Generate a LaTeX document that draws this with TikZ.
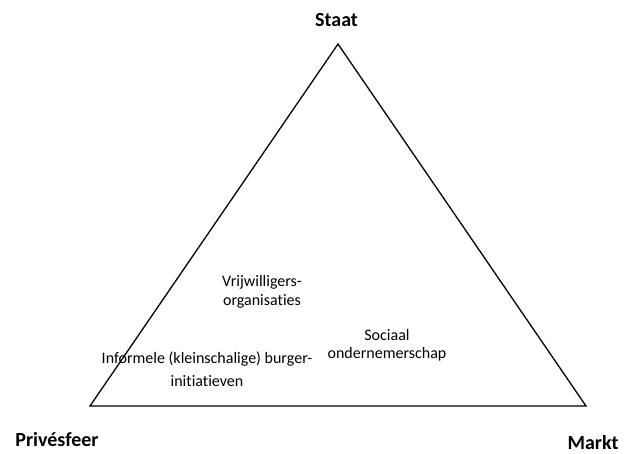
\documentclass[tikz,border=0pt]{standalone}
\usepackage{fontspec}
\setmainfont{Carlito}[Ligatures=NoCommon]
\usepackage{tikz}
\usetikzlibrary{positioning,calc}
\tikzstyle{pole} = [font=\fontsize{20}{24}\selectfont\bfseries, inner sep=0pt, anchor=base]
\tikzstyle{veld} = [font=\fontsize{16}{19}\selectfont, align=center, inner sep=0pt, anchor=base]

\begin{document}
\begin{tikzpicture}[x=1pt, y=-1pt]
    \useasboundingbox (0,0) rectangle (624,453);
    \coordinate (top) at (338,44);
    \coordinate (links) at (90,406);
    \coordinate (rechts) at (586,406);
    \draw[line width=1.3pt, line join=miter] (top) -- (links) -- (rechts) -- cycle;
    % hoeken
    \node (staat) [pole] at (336.5,26) {Staat};
    \node (prive) [pole] at (57,446) {Privésfeer};
    \node (markt) [pole] at (593,449) {Markt};
    % velden binnen de driehoek
    \node (vrijw) [veld] at (262,305) {Vrijwilligers-\\organisaties};
    \node (sociaal) [veld, font=\fontsize{16}{18}\selectfont] at (387,358) {Sociaal\\ondernemerschap};
    \node (burger) [veld, font=\fontsize{16}{22.5}\selectfont] at (207,386) {Informele (kleinschalige) burger-\\initiatieven};
\end{tikzpicture}
\end{document}
